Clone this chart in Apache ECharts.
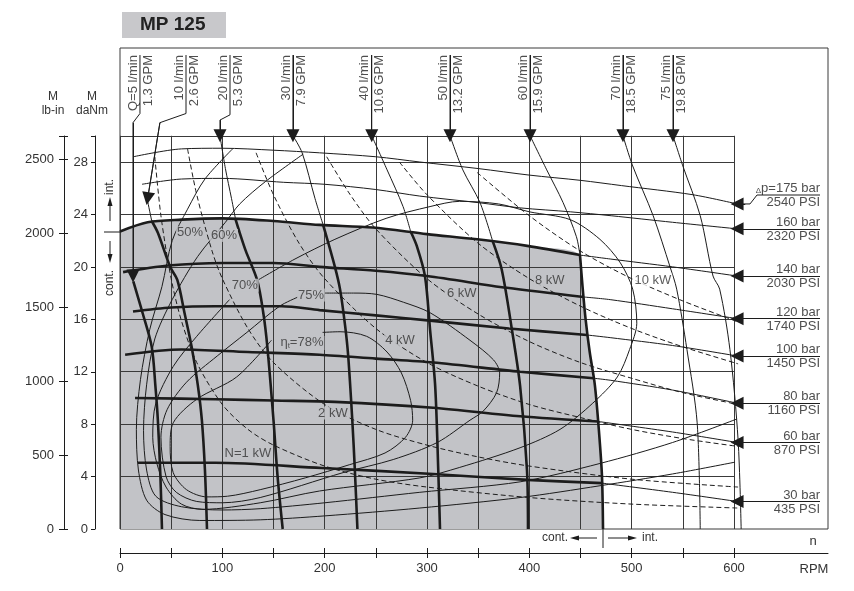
<!DOCTYPE html>
<html>
<head>
<meta charset="utf-8">
<title>MP 125</title>
<script src="https://cdn.jsdelivr.net/npm/echarts@6/dist/echarts.min.js"></script>
<style>
html,body{margin:0;padding:0;background:#fff}
#chart{width:854px;height:591px}
</style>
</head>
<body>
<div id="chart"></div>
<script>
// grid and axis values
var rpmGrid=[0,50,100,150,200,250,300,350,400,450,500,550,600];
var torqueGrid=[4,8,12,16,20,24,28,30];
var rpmTicks=[0,50,100,150,200,250,300,350,400,450,500,550,600];
var rpmLabels=[0,100,200,300,400,500,600];
var danmLabels=[0,4,8,12,16,20,24,28];
var lbinLabels=[0,500,1000,1500,2000,2500];

// pressure curves [rpm, daNm]
var p175=[[13,28.4],[60,29.0],[100,29.05],[150,28.9],[195,28.7],[250,28.4],[293,28.0],[350,27.5],[400,27.0],[450,26.6],[490,26.2],[560,25.5],[603,24.8]];
var p160=[[21.5,26.3],[60,26.7],[100,26.75],[160,26.45],[200,26.3],[250,25.9],[293,25.4],[350,24.9],[391,24.5],[440,24.2],[480,23.9],[540,23.4],[603,22.9]];
var p140=[[0,22.7],[27,23.4],[60,23.6],[100,23.7],[150,23.5],[195,23.2],[247,23.0],[300,22.5],[349,22.1],[398,21.6],[449.5,20.9],[479,20.6],[540,20.0],[603,19.3]];
var p120=[[3,19.6],[47,20.1],[100,20.3],[150,20.3],[195,20.0],[250,19.7],[300,19.3],[378,18.4],[453,17.7],[479,17.5],[540,16.8],[603,16.05]];
var p100=[[12.7,16.6],[50,16.9],[93,17.0],[158,17.0],[195,16.7],[250,16.3],[303,15.9],[380,15.3],[456.5,14.8],[479,14.6],[540,14.0],[603,13.2]];
var p80=[[5,13.3],[60,13.7],[125,13.5],[195,13.3],[250,13.0],[306,12.7],[391,12.0],[463,11.5],[479,11.35],[540,10.6],[603,9.6]];
var p60=[[14.7,10.0],[93,9.9],[150,9.8],[210,9.7],[306,9.25],[391,8.6],[467.5,8.2],[540,7.4],[603,6.6]];
var p30=[[17.6,5.05],[93,5.05],[197,4.65],[306,4.2],[398,3.75],[471,3.5],[540,2.8],[603,2.1]];
var pressBar=['{d|\u0394}p=175 bar','160 bar','140 bar','120 bar','100 bar','80 bar','60 bar','30 bar'];
var pressPsi=['2540 PSI','2320 PSI','2030 PSI','1740 PSI','1450 PSI','1160 PSI','870 PSI','435 PSI'];
var pressContEnd=[-1,-1,449.5,453,456.5,463,467.5,471];

// flow curves [rpm, daNm]
var q5=[[13,18.9],[22,16.5],[31,13.9],[34.5,11],[37,8.3],[39.5,4],[41,0]];
var q10=[[27,25.0],[31,23.5],[37,22.6],[49,20.0],[56,19.0],[63,16.5],[70,13.9],[76,11.0],[80,8.3],[83,4.5],[85,0]];
var q20=[[97.7,30],[103,27.5],[109,25.2],[113,23.6],[117,22.6],[123,21.2],[134,19.0],[140,16.5],[144,13.9],[150,8.3],[154,4.0],[159,0]];
var q30=[[169,30],[178,28.7],[190.6,25.2],[198.5,23.2],[210,20],[215,18.3],[220,15.5],[223,13.2],[227,8.3],[229.5,4.5],[232,0]];
var q40=[[246,30],[261,27.4],[276.6,24.6],[284,22.7],[290,21.6],[298,19.3],[303,15.2],[308,10.9],[311,4.5],[312.7,0]];
var q50=[[322.5,30],[335,27.4],[351.8,24.9],[364,22.0],[373,19.8],[383,15.2],[391,10.9],[397.7,4.5],[398.7,0]];
var q60=[[400.7,30],[417,27.4],[433,24.9],[446,22.3],[449.5,20.9],[452,18.5],[455,16.0],[459,13.5],[464,11.0],[468,7.5],[471,4.0],[472,0]];
var q70=[[491.5,30],[501,27.7],[521,23.9],[537.5,20],[544,18.3],[554,13.7],[564,8.1],[567,0]];
var q75=[[540.4,30],[550,27.7],[567,23.9],[579.5,19.3],[586,18.3],[596,13.7],[604,6.8],[607,0]];
var flowLpm=['Q=5 l/min','10 l/min','20 l/min','30 l/min','40 l/min','50 l/min','60 l/min','70 l/min','75 l/min'];
var flowGpm=['1.3 GPM','2.6 GPM','5.3 GPM','7.9 GPM','10.6 GPM','13.2 GPM','15.9 GPM','18.5 GPM','19.8 GPM'];
var flowContTop=[99,23.5,23.6,23.2,22.7,22.0,20.9,-1,-1];
// pointer lines from the flow labels down to the curves
var ptr5=[[19.5,36.16],[19.5,31.7],[12.7,31.0],[12.7,19.3]];
var ptr10=[[64.5,36.16],[64.5,31.7],[39,31.0],[27,25.2]];
var ptr20=[[107.5,36.16],[107.5,31.6],[97.7,31.2],[97.7,30]];
var ptr30=[[169,36.16],[169,30]];
var ptr40=[[246,36.16],[246,30]];
var ptr50=[[322.5,36.16],[322.5,30]];
var ptr60=[[400.7,36.16],[400.7,30]];
var ptr70=[[491.5,36.16],[491.5,30]];
var ptr75=[[540.4,36.16],[540.4,30]];

// output power lines
var kw1=[[34,28.4],[40,23.9],[50,19.1],[60,15.9],[75,12.7],[100,9.5],[125,7.6],[150,6.4],[200,4.8],[250,3.8],[300,3.2],[400,2.4],[500,1.9],[604,1.6]];
var kw2=[[66,29.0],[75,25.5],[90,21.2],[100,19.1],[125,15.3],[150,12.7],[200,9.5],[250,7.6],[300,6.4],[350,5.5],[400,4.8],[500,3.8],[604,3.2]];
var kw4=[[133,28.7],[150,25.5],[175,21.8],[200,19.1],[250,15.3],[300,12.7],[350,10.9],[400,9.5],[450,8.5],[500,7.6],[550,6.9],[604,6.3]];
var kw6=[[202,28.4],[225,25.5],[250,22.9],[300,19.1],[350,16.4],[400,14.3],[450,12.7],[500,11.5],[550,10.4],[604,9.5]];
var kw8=[[273,28.0],[300,25.5],[350,21.8],[400,19.1],[450,17.0],[500,15.3],[550,13.9],[604,12.6]];
var kw10=[[349,27.2],[400,23.9],[450,21.2],[500,19.1],[550,17.4],[604,15.8]];

// total efficiency contours
var eta50=[[110,29.0],[83,26.7],[66,24.4],[51,22.0],[41,18.5],[29,15.2],[20,11.4],[16,7.6],[18,4.5],[26,2.2],[44,1.1],[78,0.65],[137,0.7],[200,1.0],[293,1.6],[391,2.4],[469,3.3],[540,4.2],[601,5.1]];
var eta60=[[179,28.6],[142,26.5],[117,24.8],[103,23.4],[76,20.8],[51,17.5],[34,14.5],[26,11.0],[23,7.5],[26,4.5],[35,2.5],[60,1.7],[100,1.45],[137,1.55],[200,2.0],[293,2.8],[391,3.6],[469,5.0],[540,6.6],[603,8.4]];
var eta70=[[135,19.0],[171,20.6],[210,22.1],[260,23.7],[303,24.6],[332,25.0],[370,24.8],[400,24.2],[440,23.6],[469,22.1],[489,20.3],[501,18.3],[505,15.7],[498,13.7],[486,11.6],[462,9.6],[430,7.6],[391,6.2],[332,4.7],[293,3.9],[195,2.9],[137,2.0],[81,1.5],[60,1.9],[45,3.2],[36,5.0],[32,7.0],[35,9.6],[52,12.4],[75,14.7],[107,17.5]];
var eta75=[[200,18.0],[228,18.0],[251,17.9],[277,17.3],[303,16.5],[342,14.4],[365,12.9],[371,11.9],[368,10.4],[355,9.0],[342,8.3],[310,6.6],[267,5.3],[218,4.3],[137,2.4],[100,2.0],[75,2.1],[55,2.8],[45,4.0],[40,7.0],[46,9.1],[65,11.2],[95,13.2],[124,15.0],[156,17.0],[174,17.7]];
var eta78=[[198,15.0],[215,15.05],[241,14.7],[261,13.5],[275,11.9],[284,9.8],[286,8.3],[279,7.0],[259,5.8],[224,4.9],[181,3.9],[137,3.0],[105,2.5],[85,2.45],[65,3.0],[52,4.3],[49,6.3],[52,8.1],[75,9.9],[114,11.6],[148,14.4]];

// in-plot texts [rpm, daNm, text]
var curveLabels=[[68.4,22.6,'50%'],[101.6,22.4,'60%'],[122,18.6,'70%'],[186.6,17.85,'75%'],[177.8,14.2,'\u03b7{s|t}=78%'],
  [125,5.8,'N=1 kW'],[208,8.85,'2 kW'],[273.6,14.4,'4 kW'],[334,18.0,'6 kW'],[420,19.0,'8 kW'],[520.7,19.0,'10 kW']];

/*
* layout helpers
*/
var FONT='"Liberation Sans", Arial, sans-serif';
var INK='#1c1c1c';
var GRAY='#c2c3c7';
var PXU=614/600;           // px per rpm
var PYU=367/28;            // px per daNm
var X_MAX=708/PXU;         // right edge of frame
var Y_MAX=481/PYU;         // top edge of frame
var LBIN=88.507;           // lb-in per daNm

function curve(data,width,dash,z){
	return {type:'line',xAxisIndex:0,yAxisIndex:0,data:data,symbol:'none',smooth:0.3,silent:true,
		lineStyle:{color:INK,width:width,type:dash?[5,3]:'solid'},z:z||3};
}
function plain(v){return String(v);}
var series=[];

// continuous duty area
var contArea=p140.filter(function(p){return p[0]<=449.5;}).concat(q60.filter(function(p){return p[1]<20.9;}));
series.push({type:'line',data:contArea,symbol:'none',smooth:0.3,silent:true,
	lineStyle:{width:0,opacity:0},areaStyle:{color:GRAY,opacity:1},z:1});

// grid lines
var gl=[];
rpmGrid.forEach(function(x){gl.push({coords:[[x,0],[x,30]]});});
torqueGrid.forEach(function(y){gl.push({coords:[[0,y],[600,y]]});});
series.push({type:'lines',coordinateSystem:'cartesian2d',xAxisIndex:0,yAxisIndex:0,data:gl,silent:true,
	lineStyle:{color:'#3a3a3a',width:1,opacity:1},z:2});

// pressure lines
[p175,p160,p140,p120,p100,p80,p60,p30].forEach(function(p,i){
	var end=pressContEnd[i];
	var thick=p.filter(function(d){return d[0]<=end;});
	var thin=p.filter(function(d){return d[0]>=end;});
	if(thick.length>1) series.push(curve(thick,2.6));
	if(thin.length>1) series.push(curve(thin,1));
});
// flow lines
[q5,q10,q20,q30,q40,q50,q60,q70,q75].forEach(function(q,i){
	var top=flowContTop[i];
	var thick=q.filter(function(d){return d[1]<=top;});
	var thin=q.filter(function(d){return d[1]>=top;});
	if(thick.length>1) series.push(curve(thick,2.6));
	if(thin.length>1) series.push(curve(thin,1));
});
// power
[kw1,kw2,kw4,kw6,kw8,kw10].forEach(function(k){series.push(curve(k,1,true));});
// efficiency
[eta50,eta60,eta70,eta75,eta78].forEach(function(e){series.push(curve(e,1));});

// pointer lines with arrow heads
var ptrs=[ptr5,ptr10,ptr20,ptr30,ptr40,ptr50,ptr60,ptr70,ptr75];
series.push({type:'lines',coordinateSystem:'cartesian2d',polyline:true,silent:true,
	data:ptrs.map(function(p){return {coords:p};}),lineStyle:{color:INK,width:1,opacity:1},z:4});
var heads=ptrs.map(function(p){return {coords:[p[p.length-2],p[p.length-1]]};});
// pressure arrows on the right
var rightX=(820-120)/PXU;
var sepY=[];
[p175,p160,p140,p120,p100,p80,p60,p30].forEach(function(p,i){
	var e=p[p.length-1];
	if(i===0){
		var yTop=(529-195)/PYU;
		sepY.push(yTop);
		series.push({type:'lines',coordinateSystem:'cartesian2d',polyline:true,silent:true,
			data:[{coords:[[rightX,yTop],[(757-120)/PXU,yTop],[(750-120)/PXU,e[1]],[e[0],e[1]]]}],
			lineStyle:{color:INK,width:1,opacity:1},z:4});
		heads.push({coords:[[e[0]+8,e[1]],e]});
	}else{
		sepY.push(e[1]);
		heads.push({coords:[[rightX,e[1]],e]});
	}
});
series.push({type:'lines',coordinateSystem:'cartesian2d',silent:true,data:heads,
	symbol:['none','triangle'],symbolSize:[7,13],lineStyle:{color:INK,width:1,opacity:1},z:4});

// flow labels (rotated, two columns around the pointer)
var flowX=[19.5,64.5,107.5,169,246,322.5,400.7,491.5,540.4];
var flowText=[];
flowX.forEach(function(x,i){
	flowText.push({name:flowLpm[i],value:[x-7/PXU,36.16]});
	flowText.push({name:flowGpm[i],value:[x+8/PXU,36.16]});
});
series.push({type:'scatter',data:flowText,symbolSize:0,silent:true,z:5,
	label:{show:true,position:'inside',formatter:'{b}',rotate:90,align:'right',verticalAlign:'middle',
		color:'#222',fontSize:13,fontFamily:FONT}});

// pressure labels
var barText=[],psiText=[];
sepY.forEach(function(y,i){
	barText.push({name:pressBar[i],value:[rightX,y]});
	psiText.push({name:pressPsi[i],value:[rightX,y]});
});
series.push({type:'scatter',data:barText,symbolSize:0,silent:true,z:5,
	label:{show:true,position:'inside',formatter:'{b}',align:'right',verticalAlign:'bottom',offset:[0,0],
		color:'#222',fontSize:13,fontFamily:FONT,rich:{d:{fontSize:8,fontFamily:FONT,color:'#222',verticalAlign:'bottom'}}}});
series.push({type:'scatter',data:psiText,symbolSize:0,silent:true,z:5,
	label:{show:true,position:'inside',formatter:'{b}',align:'right',verticalAlign:'top',offset:[0,1],
		color:'#222',fontSize:13,fontFamily:FONT}});

// efficiency and power labels
series.push({type:'scatter',symbolSize:0,silent:true,z:5,
	data:curveLabels.map(function(c){
		return {name:c[2],value:[c[0],c[1]],label:{backgroundColor:c[0]<450?GRAY:'#fff'}};
	}),
	label:{show:true,position:'inside',formatter:'{b}',align:'center',verticalAlign:'middle',padding:[0,1],
		color:'#333',fontSize:13,fontFamily:FONT,rich:{s:{fontSize:8,fontFamily:FONT,color:'#333',padding:[6,0,0,0]}}}});

var axisFont={color:'#333',fontSize:13,fontFamily:FONT};
var option={
	animation:false,
	backgroundColor:'#fff',
	grid:[
		{left:120,right:26,top:48,bottom:62,show:true,borderColor:'#3a3a3a',borderWidth:1,backgroundColor:'transparent',outerBoundsMode:'none'},
		{left:120,right:120,top:136,bottom:62,show:false,outerBoundsMode:'none'}
	],
	xAxis:[
		{gridIndex:0,type:'value',min:0,max:X_MAX,position:'bottom',offset:24,
			axisLine:{show:true,onZero:false,lineStyle:{color:INK,width:1}},
			axisTick:{show:true,customValues:rpmTicks,length:5,lineStyle:{color:INK}},
			axisLabel:Object.assign({customValues:rpmLabels,margin:9,formatter:plain},axisFont),
			splitLine:{show:false}},
		{gridIndex:1,type:'value',min:0,max:600,show:false},
		// upper half of the crossing ticks
		{gridIndex:0,type:'value',min:0,max:X_MAX,position:'bottom',offset:24,
			axisLine:{show:false,onZero:false},
			axisTick:{show:true,inside:true,customValues:rpmTicks,length:5,lineStyle:{color:INK}},
			axisLabel:{show:false},splitLine:{show:false}}
	],
	yAxis:[
		{gridIndex:0,type:'value',min:0,max:Y_MAX,show:false},
		{gridIndex:1,type:'value',min:0,max:30,position:'left',offset:25,
			axisLine:{show:true,onZero:false,lineStyle:{color:INK,width:1}},
			axisTick:{show:true,customValues:danmLabels.concat([30]),length:4,lineStyle:{color:INK}},
			axisLabel:Object.assign({customValues:danmLabels,margin:7,formatter:plain},axisFont),
			splitLine:{show:false}},
		{gridIndex:1,type:'value',min:0,max:30*LBIN,position:'left',offset:56,
			axisLine:{show:true,onZero:false,lineStyle:{color:INK,width:1}},
			axisTick:{show:true,customValues:lbinLabels.concat([30*LBIN]),length:5,lineStyle:{color:INK}},
			axisLabel:Object.assign({customValues:lbinLabels,margin:10,formatter:plain},axisFont),
			splitLine:{show:false}},
		{gridIndex:1,type:'value',min:0,max:30*LBIN,position:'left',offset:56,
			axisLine:{show:false,onZero:false},
			axisTick:{show:true,inside:true,customValues:lbinLabels.concat([30*LBIN]),length:4,lineStyle:{color:INK}},
			axisLabel:{show:false},splitLine:{show:false}}
	],
	graphic:[
		{type:'rect',shape:{x:122,y:12,width:104,height:26},style:{fill:'#c8c8cb'}},
		{type:'text',x:140,y:25,style:{text:'MP 125',font:'bold 19px '+FONT,fill:'#222',verticalAlign:'middle'}},
		{type:'text',x:53,y:97,style:{text:'M',font:'12px '+FONT,fill:'#333',align:'center',verticalAlign:'middle'}},
		{type:'text',x:53,y:111,style:{text:'lb-in',font:'12px '+FONT,fill:'#333',align:'center',verticalAlign:'middle'}},
		{type:'text',x:92,y:97,style:{text:'M',font:'12px '+FONT,fill:'#333',align:'center',verticalAlign:'middle'}},
		{type:'text',x:92,y:111,style:{text:'daNm',font:'12px '+FONT,fill:'#333',align:'center',verticalAlign:'middle'}},
		// int./cont. marks on the torque side
		{type:'line',shape:{x1:110,y1:221,x2:110,y2:204},style:{stroke:INK,lineWidth:1}},
		{type:'polygon',shape:{points:[[110,197],[107.5,206],[112.5,206]]},style:{fill:INK}},
		{type:'text',x:110,y:187,rotation:Math.PI/2,style:{text:'int.',font:'12px '+FONT,fill:'#333',align:'center',verticalAlign:'middle'}},
		{type:'line',shape:{x1:104,y1:232,x2:120,y2:232},style:{stroke:INK,lineWidth:1}},
		{type:'line',shape:{x1:110,y1:241,x2:110,y2:256},style:{stroke:INK,lineWidth:1}},
		{type:'polygon',shape:{points:[[110,263],[107.5,254],[112.5,254]]},style:{fill:INK}},
		{type:'text',x:110,y:283,rotation:Math.PI/2,style:{text:'cont.',font:'12px '+FONT,fill:'#333',align:'center',verticalAlign:'middle'}},
		// cont./int. marks on the speed side
		{type:'line',shape:{x1:603,y1:522,x2:603,y2:548},style:{stroke:INK,lineWidth:1}},
		{type:'text',x:568,y:538,style:{text:'cont.',font:'12px '+FONT,fill:'#333',align:'right',verticalAlign:'middle'}},
		{type:'line',shape:{x1:576,y1:538,x2:597,y2:538},style:{stroke:INK,lineWidth:1}},
		{type:'polygon',shape:{points:[[570,538],[579,535.5],[579,540.5]]},style:{fill:INK}},
		{type:'line',shape:{x1:608,y1:538,x2:630,y2:538},style:{stroke:INK,lineWidth:1}},
		{type:'polygon',shape:{points:[[637,538],[628,535.5],[628,540.5]]},style:{fill:INK}},
		{type:'text',x:642,y:538,style:{text:'int.',font:'12px '+FONT,fill:'#333',align:'left',verticalAlign:'middle'}},
		{type:'text',x:813,y:541,style:{text:'n',font:'13px '+FONT,fill:'#333',align:'center',verticalAlign:'middle'}},
		{type:'text',x:814,y:569,style:{text:'RPM',font:'13px '+FONT,fill:'#333',align:'center',verticalAlign:'middle'}}
	],
	series:series
};
var myChart=echarts.init(document.getElementById('chart'));
myChart.setOption(option);
</script>
</body>
</html>
